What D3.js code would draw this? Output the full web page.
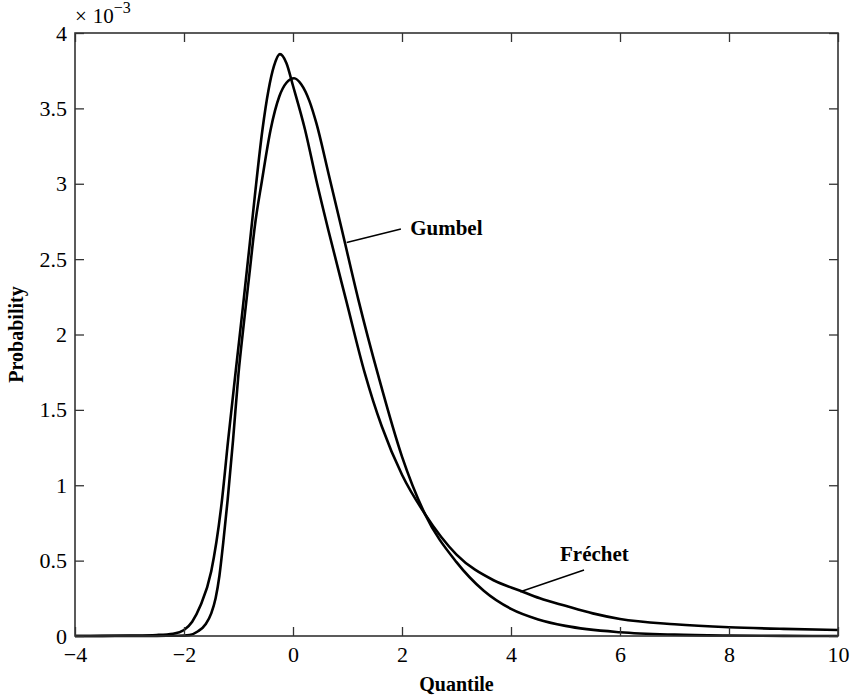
<!DOCTYPE html>
<html><head><meta charset="utf-8">
<script src="https://cdn.jsdelivr.net/npm/d3@7"></script>
<style>body{margin:0;background:#fff}svg{display:block}text{font-family:"Liberation Serif","Times New Roman",serif}</style>
</head><body><svg id="c" width="851" height="700"></svg>
<script>
// Data (probability values in units of 1e-3)
const gumbelX = [-4,-3,-2.5,-2.1,-1.9,-1.75,-1.6,-1.5,-1.42,-1.35,-1.28,-1.2,-1.1,-1.0,-0.9,-0.8,-0.7,-0.57,-0.41,-0.25,-0.12,0.02,0.15,0.3,0.43,0.65,0.9,1.2,1.57,2.0,2.42,3.0,3.5,4.0,4.5,5.0,6.0,7.0,8.0,9.0,10.0];
const gumbelY = [0,0,0.001,0.002,0.006,0.03,0.08,0.15,0.25,0.40,0.62,0.90,1.30,1.74,2.08,2.40,2.72,3.02,3.36,3.58,3.67,3.70,3.66,3.55,3.40,3.07,2.69,2.23,1.72,1.19,0.81,0.49,0.30,0.18,0.11,0.067,0.025,0.009,0.003,0.001,0];
const frechetX = [-4,-3.5,-3,-2.5,-2.2,-2.0,-1.85,-1.7,-1.5,-1.31,-1.19,-1.05,-0.92,-0.80,-0.70,-0.56,-0.45,-0.35,-0.24,-0.12,0,0.22,0.43,0.65,0.98,1.32,1.47,1.63,2.0,2.42,3.0,3.68,4.17,4.53,5.0,5.5,6.0,7.0,8.0,9.0,10.0];
const frechetY = [0,0.001,0.003,0.007,0.015,0.04,0.095,0.20,0.43,0.88,1.30,1.76,2.18,2.58,2.92,3.36,3.62,3.78,3.86,3.80,3.65,3.36,3.02,2.69,2.22,1.74,1.56,1.39,1.07,0.81,0.54,0.37,0.30,0.25,0.20,0.15,0.113,0.078,0.058,0.047,0.04];
const xTicks = [-4,-2,0,2,4,6,8,10];
const yTicks = [0,0.5,1,1.5,2,2.5,3,3.5,4];
const labels = [
  {name:"Gumbel", from:[0.985,2.61], to:[1.98,2.70], text:[2.15,2.66]},
  {name:"Fréchet", from:[4.17,0.294], to:[5.34,0.438], text:[4.90,0.50]}
];

const svg = d3.select("#c");
const L=75, R=838, T=33, B=636;
const x = d3.scaleLinear().domain([-4,10]).range([L,R]);
const y = d3.scaleLinear().domain([0,4]).range([B,T]);
const fmt = d => (d<0? "\u2212"+Math.abs(d) : String(d));
const axCol="#333", tl=9;

// curves
const line = d3.line().x(d=>x(d[0])).y(d=>y(d[1])).curve(d3.curveMonotoneX);
[[gumbelX,gumbelY],[frechetX,frechetY]].forEach(([xs,ys])=>{
  svg.append("path").attr("d", line(xs.map((v,i)=>[v,ys[i]])))
    .attr("fill","none").attr("stroke","#000").attr("stroke-width",2.6).attr("stroke-linejoin","round");
});

// axes (ticks inward, mirrored)
const g = svg.append("g");
const axBottom = d3.axisBottom(x).tickValues(xTicks).tickSize(-tl).tickPadding(10).tickFormat(fmt);
const axTop = d3.axisTop(x).tickValues(xTicks).tickSize(-tl).tickFormat("");
const axLeft = d3.axisLeft(y).tickValues(yTicks).tickSize(-tl).tickPadding(8).tickFormat(d=>String(d));
const axRight = d3.axisRight(y).tickValues(yTicks).tickSize(-tl).tickFormat("");
g.append("g").attr("transform",`translate(0,${B})`).call(axBottom);
g.append("g").attr("transform",`translate(0,${T})`).call(axTop);
g.append("g").attr("transform",`translate(${L},0)`).call(axLeft);
g.append("g").attr("transform",`translate(${R},0)`).call(axRight);
g.selectAll(".domain").remove();
g.selectAll(".tick line").attr("stroke",axCol).attr("stroke-width",1.3);
g.selectAll(".tick text").attr("font-size",22).attr("fill","#000").attr("font-family","Liberation Serif");
svg.append("rect").attr("x",L).attr("y",T).attr("width",R-L).attr("height",B-T)
  .attr("fill","none").attr("stroke",axCol).attr("stroke-width",1.6);

// exponent
const ex = svg.append("text").attr("x",L).attr("y",23).attr("font-size",21).attr("fill","#000");
ex.append("tspan").text("\u00d7");
ex.append("tspan").attr("dx",6).text("10");
ex.append("tspan").attr("dy",-10).attr("font-size",16).text("\u22123");

// axis titles
svg.append("text").attr("x",(L+R)/2).attr("y",691).attr("text-anchor","middle")
  .attr("font-size",20).attr("font-weight","bold").text("Quantile");
svg.append("text").attr("transform",`translate(23,${(T+B)/2}) rotate(-90)`).attr("text-anchor","middle")
  .attr("font-size",20).attr("font-weight","bold").text("Probability");

// annotations
labels.forEach(a=>{
  svg.append("line").attr("x1",x(a.from[0])).attr("y1",y(a.from[1])).attr("x2",x(a.to[0])).attr("y2",y(a.to[1]))
    .attr("stroke","#000").attr("stroke-width",1.5);
  svg.append("text").attr("x",x(a.text[0])).attr("y",y(a.text[1])).attr("font-size",21)
    .attr("font-weight","bold").text(a.name);
});
</script></body></html>
